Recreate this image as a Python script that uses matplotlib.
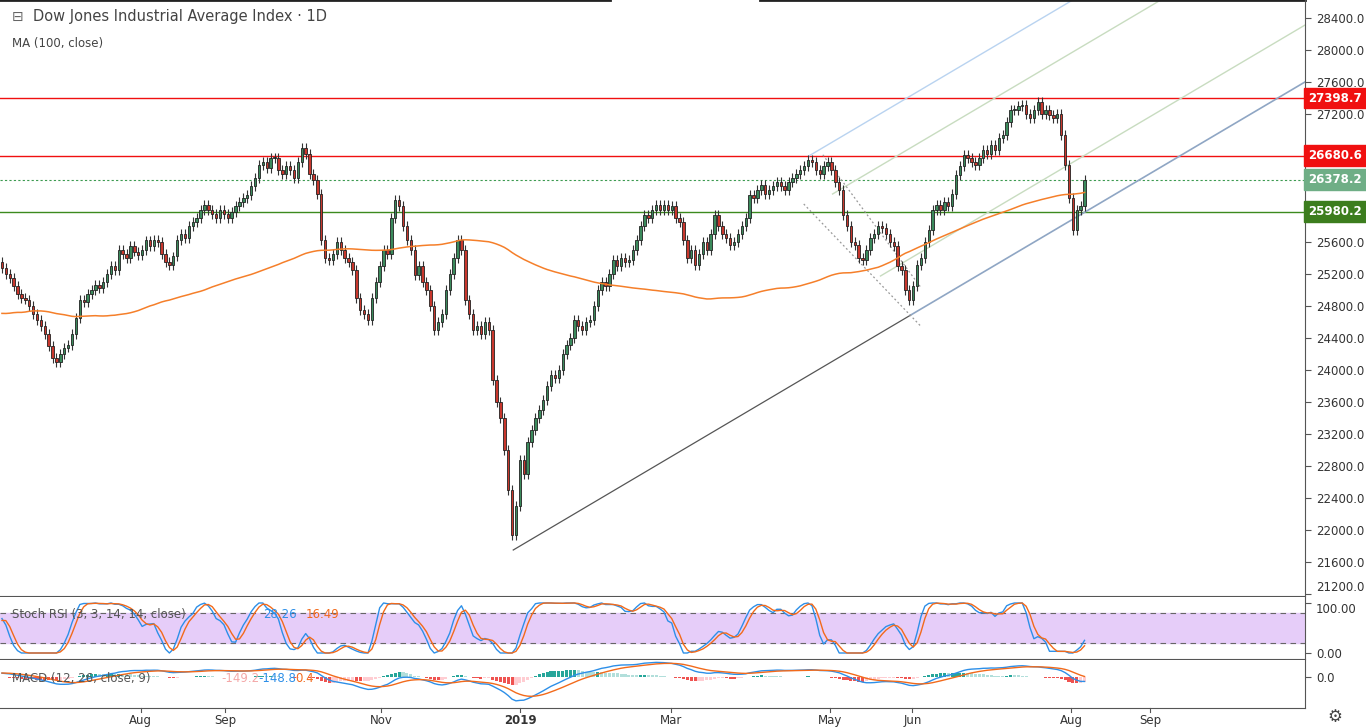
import numpy as np
import pandas as pd
import matplotlib
matplotlib.use("Agg")
import matplotlib.pyplot as plt

# closes before the visible window (feed the MA / indicators)
pre_closes = [
    25500, 25300, 24800, 24400, 24600, 24900, 24400, 23900, 24200, 24600,
    24640, 24890, 25000, 25200, 25220, 24960, 24970, 25300, 25400, 25030,
    24600, 24500, 24700, 24900, 24880, 25330, 25180, 25000, 24800, 24950,
    24750, 24870, 24700, 24550, 24200, 23950, 23550, 23530, 23850, 24200,
    23860, 23640, 24030, 24260, 23920, 24270, 24180, 24400, 24490, 24360,
    24670, 24660, 24450, 24020, 24080, 24320, 24310, 24260, 24350, 24260,
    24360, 24700, 24740, 24830, 24770, 24710, 24700, 24830, 24710, 24830,
    24890, 24670, 24350, 24750, 24750, 24530, 24400, 24630, 24800, 25150,
    25230, 25320, 25140, 25320, 25280, 25060, 24990, 25170, 25090, 25250,
    25400, 25250, 25150, 25000, 25050, 25100, 25200, 25250, 25300, 25350,
]

# visible daily closes
closes = [
    25275, 25200, 25150, 25050, 24950, 24900, 24880, 24800, 24700, 24625,
    24550, 24450, 24300, 24150, 24100, 24200, 24280, 24310, 24450, 24650,
    24875, 24850, 24950, 25000, 25060, 25020, 25100, 25200, 25300, 25250,
    25500, 25450, 25400, 25550, 25480, 25440, 25500, 25620, 25550, 25625,
    25600, 25450, 25350, 25310, 25420, 25625, 25700, 25650, 25800, 25850,
    25900, 26000, 26060, 26000, 25950, 25900, 26000, 25950, 25900, 25975,
    26050, 26100, 26150, 26190, 26300, 26400, 26560, 26600, 26520, 26650,
    26650, 26500, 26450, 26550, 26500, 26400, 26600, 26775, 26700, 26450,
    26375, 26200, 25625, 25400, 25375, 25450, 25600, 25500, 25400, 25350,
    25250, 24900, 24750, 24700, 24625, 24900, 25100, 25300, 25500, 25450,
    25900, 26125, 26050, 25800, 25625, 25500, 25190, 25300, 25100, 25000,
    24800, 24500, 24600, 24700, 25000, 25200, 25400, 25625, 25500, 24875,
    24700, 24500, 24550, 24450, 24600, 24500, 23875, 23600, 23400, 23000,
    22500, 21940, 22300, 22875, 22700, 23100, 23250, 23400, 23500, 23625,
    23800, 23940, 23900, 24000, 24200, 24310, 24400, 24625, 24550, 24500,
    24600, 24625, 24800, 25000, 25100, 25050, 25200, 25375, 25300, 25400,
    25350, 25375, 25500, 25625, 25800, 25940, 25900, 26000, 26060, 26000,
    26060, 26000, 26050, 25900, 25850, 25625, 25400, 25500, 25310, 25450,
    25600, 25500, 25700, 25940, 25800, 25700, 25650, 25560, 25600, 25700,
    25800, 25900, 26190, 26150, 26250, 26310, 26200, 26250, 26300, 26350,
    26300, 26250, 26350, 26400, 26450, 26500, 26550, 26625, 26600, 26500,
    26450, 26550, 26600, 26500, 26350, 26250, 25940, 25800, 25600, 25560,
    25400, 25375, 25500, 25650, 25700, 25800, 25775, 25700, 25600, 25550,
    25300, 25250, 25000, 24875, 25050, 25310, 25400, 25600, 25750, 26000,
    26060, 26000, 26100, 26050, 26200, 26440, 26550, 26690, 26650, 26600,
    26560, 26650, 26750, 26700, 26810, 26750, 26900, 26940, 27100, 27250,
    27250, 27300, 27310, 27200, 27150, 27250, 27350, 27200, 27250, 27190,
    27150, 27200, 26940, 26560, 26150, 25750, 26000, 26050, 26378.2,
]

month_ticks = [35.6, 57.4, 97.4, 133.1, 171.8, 212.6, 233.8, 274.6, 294.9]
month_labels = ["Aug", "Sep", "Nov", "2019", "Mar", "May", "Jun", "Aug", "Sep"]

levels_red = [27398.7, 26680.6]
level_green = 25980.2
last_price = 26378.2

# trend line anchors (bar index, price)
trend_low = [(131.3, 21750), (334.6, 27600)]
fork_lines = [  # (start bar, start price, colour)
    (207.2, 26675, "#b9d3f0"),
    (213.3, 26200, "#c8dcc0"),
    (225.6, 25175, "#c8dcc0"),
]
handle_lines = [((210.8, 26690), (236.0, 25030)), ((205.9, 26075), (235.9, 24550))]

allc = pd.Series(pre_closes + closes, dtype=float)
n0 = len(pre_closes)
ma = allc.rolling(100).mean().values[n0:]

# stoch rsi (3, 3, 14, 14)
d = allc.diff()
up = d.clip(lower=0).ewm(alpha=1 / 14, adjust=False).mean()
dn = (-d.clip(upper=0)).ewm(alpha=1 / 14, adjust=False).mean()
rsi = 100 - 100 / (1 + up / dn)
lo = rsi.rolling(14).min()
hi = rsi.rolling(14).max()
st = (rsi - lo) / (hi - lo) * 100
k = st.rolling(3).mean()
dd = k.rolling(3).mean()
k = k.values[n0:]
dd = dd.values[n0:]

# macd
ema12 = allc.ewm(span=12, adjust=False).mean()
ema26 = allc.ewm(span=26, adjust=False).mean()
macd = ema12 - ema26
sig = macd.ewm(span=9, adjust=False).mean()
hist = (macd - sig).values[n0:]
macd = macd.values[n0:]
sig = sig.values[n0:]

W, H = 1366, 728
fig = plt.figure(figsize=(W / 100, H / 100), dpi=100)
fig.patch.set_facecolor("white")
ax = fig.add_axes([0, 1 - 596 / H, 1305 / W, 596 / H])
ax2 = fig.add_axes([0, 1 - 659 / H, 1305 / W, 62 / H])
ax3 = fig.add_axes([0, 1 - 708 / H, 1305 / W, 48 / H])

xmax = 1305 / 3.9
idx = np.arange(len(closes))
c = np.array(closes, dtype=float)
o = np.concatenate([[pre_closes[-1]], c[:-1]])
hgh = np.maximum(o, c) + 60
low = np.minimum(o, c) - 60
isup = c >= o

ax.vlines(idx, low, hgh, color="#333333", lw=0.8, zorder=3)
ax.bar(idx, np.where(np.abs(c - o) < 8, 8, c - o), bottom=o, width=0.62,
       color=np.where(isup, "#3b8a5c", "#c8372d"), edgecolor="#222222", lw=0.6, zorder=4)
ax.plot(idx, ma, color="#f57f2a", lw=1.1, zorder=5)

for lv in levels_red:
    ax.axhline(lv, color="#f01010", lw=1.0, zorder=2)
ax.axhline(level_green, color="#3c8a1e", lw=1.0, zorder=2)
ax.axhline(last_price, color="#3c9a50", lw=0.8, ls=(0, (2, 2)), zorder=2)

(x0, y0), (x1, y1) = trend_low
slope = (y1 - y0) / (x1 - x0)
ax.plot([x0, 233.3], [y0, y0 + slope * (233.3 - x0)], color="#555555", lw=0.9, zorder=2)
ax.plot([233.3, x1], [y0 + slope * (233.3 - x0), y1], color="#8fa6c4", lw=1.2, zorder=2)
for sx, sy, col in fork_lines:
    ax.plot([sx, xmax], [sy, sy + slope * (xmax - sx)], color=col, lw=1.0, zorder=2)
for (a, b), (e, f) in handle_lines:
    ax.plot([a, e], [b, f], color="#999999", lw=0.9, ls=(0, (1.5, 2)), zorder=2)

ax.set_xlim(-0.5, xmax)
ax.set_ylim(21175, 28625)

for a in (ax, ax2, ax3):
    a.set_xlim(-0.5, xmax)
    a.set_xticks([])
    a.yaxis.tick_right()
    a.tick_params(axis="y", length=4, color="#555555", labelsize=8.5, labelcolor="#333333", pad=4)
    for s in ("left", "top", "bottom"):
        a.spines[s].set_visible(False)
    a.spines["right"].set_color("#555555")
    a.spines["bottom"].set_visible(True)
    a.spines["bottom"].set_color("#555555")

# labels hidden behind the price tags are left out
ticks = [t for t in range(21200, 28401, 400) if t not in (26000, 26400, 26800)]
ax.set_yticks(ticks)
ax.set_yticklabels([f"{t:.1f}" for t in ticks])
ax.get_yticklabels()[0].set_va("bottom")

tags = [(27398.7, "#f01010"), (26680.6, "#f01010"), (26378.2, "#6fae86"), (25980.2, "#3c7d1e")]
for v, col in tags:
    ax.text(xmax + 0.8, v, f"{v:.1f}", color="white", fontsize=8.5, fontweight="bold",
            va="center", ha="left", clip_on=False, zorder=10,
            bbox=dict(boxstyle="square,pad=0.32", fc=col, ec=col))

ax.text(0.025, 0.972, "Dow Jones Industrial Average Index · 1D", transform=ax.transAxes,
        fontsize=10.5, color="#444444", va="center")
ax.text(0.009, 0.927, "MA (100, close)", transform=ax.transAxes, fontsize=8.5,
        color="#444444", va="center")
ax.text(0.009, 0.972, "⊟", transform=ax.transAxes, fontsize=10, color="#666666", va="center")
ax.axhline(28625, xmin=0, xmax=610 / 1305, color="#222222", lw=2, clip_on=False)
ax.axhline(28625, xmin=760 / 1305, xmax=1, color="#222222", lw=2, clip_on=False)

# stoch rsi panel
ax2.axhspan(20, 80, color="#e6cdf9", zorder=0)
ax2.axhline(80, color="#666666", lw=0.8, ls=(0, (5, 4)))
ax2.axhline(20, color="#666666", lw=0.8, ls=(0, (5, 4)))
ax2.plot(idx, k, color="#2d8fe8", lw=1.0)
ax2.plot(idx, dd, color="#f26a1b", lw=1.0)
ax2.set_ylim(-12, 112)
ax2.set_yticks([0, 100])
ax2.set_yticklabels(["0.00", "100.00"])
ax2.get_yticklabels()[1].set_va("top")
ax2.text(0.009, 0.72, "Stoch RSI (3, 3, 14, 14, close)", transform=ax2.transAxes,
         fontsize=8.5, color="#555555", va="center")
ax2.text(0.202, 0.72, "28.26", transform=ax2.transAxes, fontsize=8.5, color="#2d8fe8", va="center")
ax2.text(0.234, 0.72, "16.49", transform=ax2.transAxes, fontsize=8.5, color="#f26a1b", va="center")

# macd panel
hcol = []
for i, hv in enumerate(hist):
    prev = hist[i - 1] if i > 0 else hv
    if hv >= 0:
        hcol.append("#26a69a" if hv >= prev else "#b2dfdb")
    else:
        hcol.append("#ef5350" if hv <= prev else "#ffcdd2")
ax3.bar(idx, hist, width=0.8, color=hcol)
ax3.plot(idx, macd, color="#2d8fe8", lw=1.0)
ax3.plot(idx, sig, color="#f26a1b", lw=1.0)
ax3.set_ylim(-950, 520)
ax3.set_yticks([0])
ax3.set_yticklabels(["0.0"])
ax3.text(0.009, 0.62, "MACD (12, 26, close, 9)", transform=ax3.transAxes,
         fontsize=8.5, color="#555555", va="center")
ax3.text(0.170, 0.62, "-149.2", transform=ax3.transAxes, fontsize=8.5, color="#f4a8a8", va="center")
ax3.text(0.198, 0.62, "-148.8", transform=ax3.transAxes, fontsize=8.5, color="#2d8fe8", va="center")
ax3.text(0.226, 0.62, "0.4", transform=ax3.transAxes, fontsize=8.5, color="#f26a1b", va="center")

# time axis
for t, lab in zip(month_ticks, month_labels):
    ax3.text(t, -0.12, lab, transform=ax3.get_xaxis_transform(), ha="center", va="top",
             fontsize=8.5, color="#333333", fontweight="bold" if lab == "2019" else "normal",
             clip_on=False)
    ax3.plot([t, t], [0, -0.08], transform=ax3.get_xaxis_transform(), color="#555555",
             lw=0.8, clip_on=False)

fig.text(1335 / W, 1 - 717 / H, "⚙", fontsize=12, color="#444444", ha="center", va="center")

fig.savefig("out.png", dpi=100)
